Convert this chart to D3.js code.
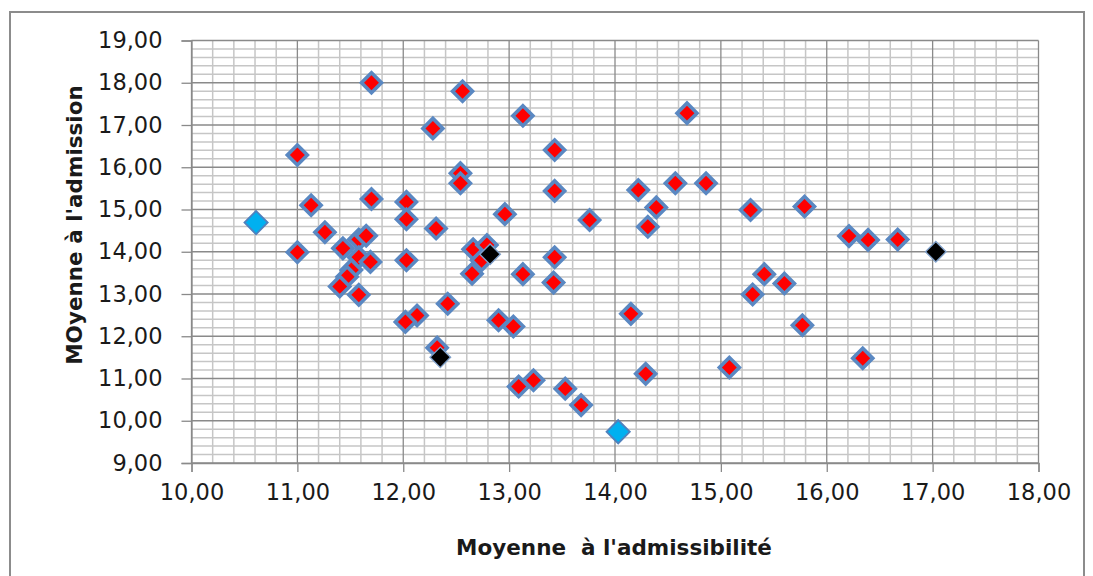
<!DOCTYPE html>
<html>
<head>
<meta charset="utf-8">
<script src="https://cdn.jsdelivr.net/npm/d3@7"></script>
<style>
  body { margin: 0; background: #fff; }
  svg { display: block; }
  text { font-family: "DejaVu Sans", sans-serif; fill: #1a1a1a; white-space: pre; }
</style>
</head>
<body>
<script>
// red series (admissibilite, admission)
var redX = [11.70, 12.56, 12.28, 11.00, 13.13, 13.43, 14.68, 12.54, 12.54, 13.43,
            14.22, 14.57, 14.86, 14.39, 11.13, 11.70, 12.03, 12.03, 12.31, 11.26,
            11.00, 11.43, 11.58, 11.65, 11.58, 11.69, 11.51, 11.47, 11.40, 11.58,
            12.03, 12.42, 12.13, 12.02, 12.32, 12.96, 13.76, 14.31, 12.66, 12.79,
            12.74, 12.65, 13.13, 13.43, 13.42, 12.90, 13.04, 14.15, 14.29, 13.09,
            13.23, 13.53, 13.68, 15.28, 15.79, 16.21, 16.39, 16.67, 15.41, 15.60,
            15.30, 15.77, 16.34, 15.08];
var redY = [18.00, 17.80, 16.92, 16.29, 17.22, 16.41, 17.28, 15.86, 15.62, 15.44,
            15.46, 15.62, 15.62, 15.05, 15.10, 15.25, 15.18, 14.77, 14.55, 14.46,
            13.99, 14.08, 14.29, 14.38, 13.87, 13.76, 13.57, 13.41, 13.18, 12.98,
            13.80, 12.77, 12.49, 12.34, 11.73, 14.89, 14.75, 14.59, 14.06, 14.16,
            13.80, 13.48, 13.47, 13.87, 13.27, 12.38, 12.23, 12.53, 11.11, 10.81,
            10.96, 10.76, 10.37, 14.99, 15.07, 14.37, 14.28, 14.29, 13.47, 13.25,
            12.99, 12.26, 11.48, 11.26];
var blackX = [12.82, 12.35, 17.03];
var blackY = [13.94, 11.50, 14.00];
var cyanX = [10.61, 14.03];
var cyanY = [14.69, 9.74];

var xTicks = [10, 11, 12, 13, 14, 15, 16, 17, 18];
var yTicks = [9, 10, 11, 12, 13, 14, 15, 16, 17, 18, 19];

(function() {
    var W = 1093, H = 576;
    var pl = 191.5, pr = 1038.5, pt = 40.5, pb = 463;

    var svg = d3.select('body').append('svg')
        .attr('width', W)
        .attr('height', H);

    // outer chart frame
    svg.append('rect')
        .attr('x', 10).attr('y', 12)
        .attr('width', 1074).attr('height', 580)
        .attr('fill', 'none')
        .attr('stroke', '#8c8c8c')
        .attr('stroke-width', 2);

    var x = d3.scaleLinear().domain([10, 18]).range([pl, pr]);
    var y = d3.scaleLinear().domain([9, 19]).range([pb, pt]);

    var fr = d3.formatLocale({decimal: ',', thousands: ' ', grouping: [3], currency: ['', '']});
    var fmt = fr.format('.2f');

    // minor grid every 0.2
    var notMajor = function(v) { return Math.abs(v - Math.round(v)) > 0.01; };
    var minorX = d3.range(10, 18.001, 0.2).filter(notMajor);
    var minorY = d3.range(9, 19.001, 0.2).filter(notMajor);

    var grid = svg.append('g');
    grid.selectAll('.mx').data(minorX).enter().append('line')
        .attr('x1', function(d) { return x(d); })
        .attr('x2', function(d) { return x(d); })
        .attr('y1', pt).attr('y2', pb)
        .attr('stroke', '#c6c6c6').attr('stroke-width', 1.5);
    grid.selectAll('.my').data(minorY).enter().append('line')
        .attr('y1', function(d) { return y(d); })
        .attr('y2', function(d) { return y(d); })
        .attr('x1', pl).attr('x2', pr)
        .attr('stroke', '#c6c6c6').attr('stroke-width', 1.5);
    grid.selectAll('.Mx').data(xTicks).enter().append('line')
        .attr('x1', function(d) { return x(d); })
        .attr('x2', function(d) { return x(d); })
        .attr('y1', pt).attr('y2', pb)
        .attr('stroke', '#8a8a8a').attr('stroke-width', 1.3);
    grid.selectAll('.My').data(yTicks).enter().append('line')
        .attr('y1', function(d) { return y(d); })
        .attr('y2', function(d) { return y(d); })
        .attr('x1', pl).attr('x2', pr)
        .attr('stroke', '#8a8a8a').attr('stroke-width', 1.3);

    // axes
    var xAxis = svg.append('g')
        .attr('transform', 'translate(0,' + pb + ')')
        .call(d3.axisBottom(x).tickValues(xTicks).tickFormat(fmt).tickSize(9).tickPadding(12));
    var yAxis = svg.append('g')
        .attr('transform', 'translate(' + pl + ',0)')
        .call(d3.axisLeft(y).tickValues(yTicks).tickFormat(fmt).tickSize(10).tickPadding(19));

    [xAxis, yAxis].forEach(function(a) {
        a.select('.domain').attr('stroke', '#8a8a8a').attr('stroke-width', 1.3);
        a.selectAll('.tick line').attr('stroke', '#8a8a8a').attr('stroke-width', 1.3);
        a.selectAll('.tick text')
            .attr('font-family', '"DejaVu Sans", sans-serif')
            .attr('font-size', 22.5)
            .attr('fill', '#1a1a1a');
    });

    // axis titles
    svg.append('text')
        .attr('x', 614).attr('y', 555)
        .attr('text-anchor', 'middle')
        .attr('font-size', 21.5)
        .attr('font-weight', 'bold')
        .text("Moyenne  à l'admissibilité");
    svg.append('text')
        .attr('transform', 'translate(82,225) rotate(-90)')
        .attr('text-anchor', 'middle')
        .attr('font-size', 21.5)
        .attr('font-weight', 'bold')
        .text("MOyenne à l'admission");

    // markers: squares turned 45 degrees
    var diamond = function(size) {
        return d3.symbol().type(d3.symbolSquare).size(size)();
    };
    function drawSeries(xs, ys, fill, stroke, sw, size) {
        svg.append('g').selectAll('path').data(xs).enter().append('path')
            .attr('d', diamond(size))
            .attr('transform', function(d, i) {
                return 'translate(' + x(d) + ',' + y(ys[i]) + ') rotate(45)';
            })
            .attr('fill', fill)
            .attr('stroke', stroke)
            .attr('stroke-width', sw);
    }
    drawSeries(redX, redY, '#ff0000', '#5a88c2', 3.6, 200);
    drawSeries(blackX, blackY, '#000000', '#7f9fc8', 1.4, 210);
    drawSeries(cyanX, cyanY, '#00b0f0', '#4f81bd', 1.8, 270);
})();
</script>
</body>
</html>
